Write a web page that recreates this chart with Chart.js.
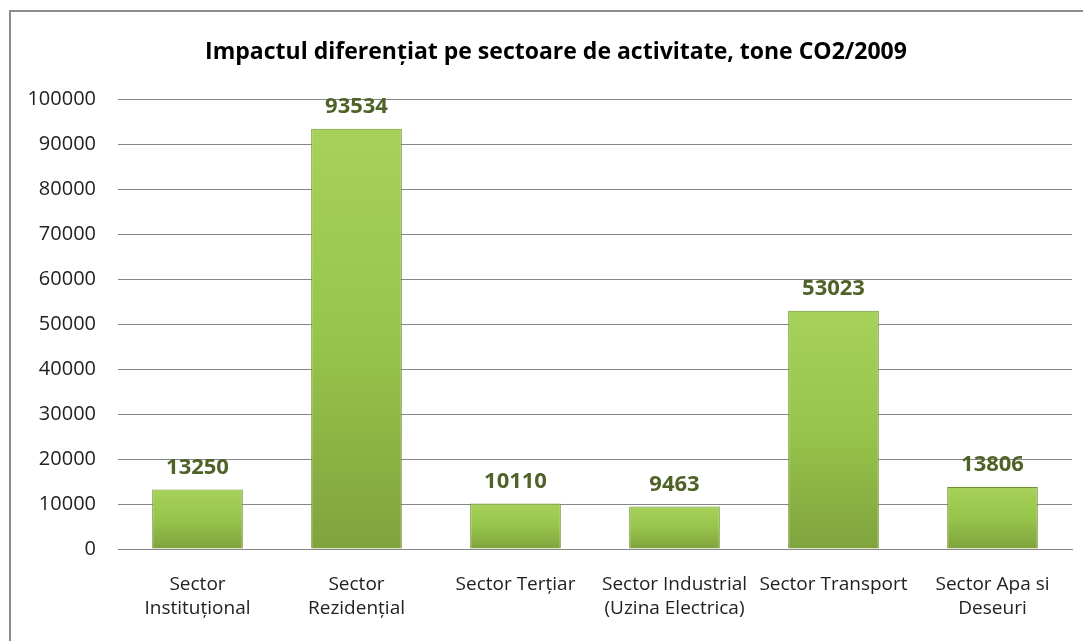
<!DOCTYPE html>
<html>
<head>
<meta charset="utf-8">
<script src="https://cdn.jsdelivr.net/npm/chart.js@4"></script>
<style>
	body { margin: 0; overflow: hidden; background: #fff; }
	#frame { position: absolute; left: 9px; top: 10px; width: 1090px; height: 660px; border: 2px solid #8c8c8c; }
	#chart1 { display: block; }
</style>
</head>
<body>
<div id="frame"><canvas id="chart1" width="1090" height="640"></canvas></div>
<script>
var sectors = [
	['Sector', 'Instituțional'],
	['Sector', 'Rezidențial'],
	'Sector Terțiar',
	['Sector Industrial', '(Uzina Electrica)'],
	'Sector Transport',
	['Sector Apa si', 'Deseuri']
];
var emissions = [13250, 93534, 10110, 9463, 53023, 13806];
var yTicks = [0, 10000, 20000, 30000, 40000, 50000, 60000, 70000, 80000, 90000, 100000];
var titleText = 'Impactul diferențiat pe sectoare de activitate, tone CO2/2009';

var fontName = '"Open Sans", sans-serif';

// light top, darker base, computed from each bar's own position
var barFill = {
	id: 'barFill',
	beforeDatasetDraw: function(chart, args) {
		var ctx = chart.ctx;
		args.meta.data.forEach(function(bar) {
			var g = ctx.createLinearGradient(0, bar.y, 0, bar.base);
			g.addColorStop(0, '#a6d15a');
			g.addColorStop(0.5, '#97c54b');
			g.addColorStop(1, '#80a33e');
			bar.options.backgroundColor = g;
		});
	}
};

var valueLabels = {
	id: 'valueLabels',
	afterDatasetsDraw: function(chart) {
		var ctx = chart.ctx;
		var meta = chart.getDatasetMeta(0);
		ctx.save();
		ctx.font = 'bold 22px ' + fontName;
		ctx.fillStyle = '#4f6228';
		ctx.textAlign = 'center';
		ctx.textBaseline = 'bottom';
		meta.data.forEach(function(bar, i) {
			ctx.fillText(String(emissions[i]), bar.x, bar.y - 11);
		});
		ctx.restore();
	}
};

var ctx = document.getElementById('chart1').getContext('2d');
var chart = new Chart(ctx, {
	type: 'bar',
	data: {
		labels: sectors,
		datasets: [{
			data: emissions,
			backgroundColor: function() { return '#97c54b'; },
			borderColor: '#6f8f30',
			borderWidth: 1,
			categoryPercentage: 1,
			barPercentage: 0.57
		}]
	},
	options: {
		responsive: false,
		animation: false,
		layout: { padding: 0 },
		plugins: {
			legend: { display: false },
			tooltip: { enabled: false },
			title: {
				display: true,
				text: titleText,
				color: '#000',
				font: { family: fontName, size: 23, weight: 'bold' },
				padding: { top: 27, bottom: 33 }
			}
		},
		scales: {
			x: {
				grid: { display: false },
				border: { color: '#868686', width: 1 },
				ticks: {
					color: '#222',
					font: { family: fontName, size: 19, lineHeight: '24px' },
					padding: 16,
					maxRotation: 0,
					autoSkip: false
				},
				afterFit: function(scale) { scale.height = 103; }
			},
			y: {
				min: 0,
				max: 100000,
				afterBuildTicks: function(scale) {
					scale.ticks = yTicks.map(function(v) { return { value: v }; });
				},
				grid: { color: '#868686', drawTicks: false },
				border: { display: false },
				ticks: {
					color: '#222',
					font: { family: fontName, size: 20 },
					padding: 22,
					callback: function(v) { return String(v); }
				},
				afterFit: function(scale) { scale.width = 107; }
			},
			// empty right-hand box, keeps the plot off the right edge
			spacer: {
				type: 'linear',
				position: 'right',
				grid: { display: false, drawTicks: false },
				border: { display: false },
				ticks: { display: false },
				afterFit: function(scale) { scale.width = 29; }
			}
		}
	},
	plugins: [barFill, valueLabels]
});
</script>
</body>
</html>
